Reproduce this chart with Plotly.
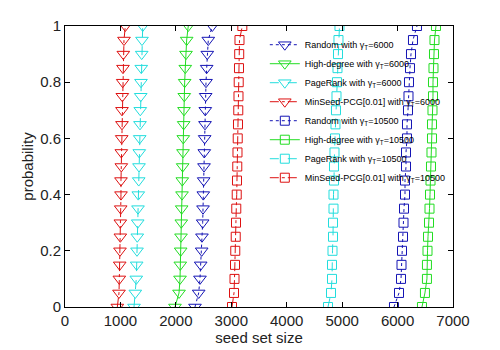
import plotly.graph_objects as go

prob = [i * 0.05 for i in range(21)]

# gamma_T = 6000
random_6000 = [2345, 2412, 2435, 2448, 2466, 2471, 2484, 2490, 2495, 2502, 2508,
               2513, 2520, 2526, 2531, 2538, 2544, 2556, 2567, 2585, 2657]
degree_6000 = [1984, 2057, 2075, 2080, 2087, 2093, 2098, 2105, 2111, 2116, 2123,
               2129, 2134, 2141, 2147, 2152, 2159, 2170, 2183, 2195, 2224]
pagerank_6000 = [1245, 1268, 1286, 1293, 1299, 1304, 1312, 1317, 1322, 1330, 1335,
                 1340, 1348, 1353, 1358, 1366, 1371, 1376, 1384, 1389, 1402]
minseed_6000 = [944, 974, 980, 987, 992, 998, 998, 1005, 1010, 1010, 1016,
                1016, 1023, 1028, 1028, 1034, 1041, 1046, 1052, 1064, 1088]

# gamma_T = 10500
random_10500 = [5935, 6026, 6062, 6071, 6080, 6098, 6107, 6116, 6134, 6134, 6152,
                6152, 6170, 6170, 6188, 6197, 6206, 6224, 6242, 6278, 6350]
degree_10500 = [6440, 6494, 6530, 6530, 6540, 6549, 6567, 6576, 6585, 6594, 6603,
                6612, 6621, 6621, 6630, 6639, 6639, 6648, 6657, 6666, 6693]
pagerank_10500 = [4745, 4799, 4817, 4817, 4826, 4835, 4835, 4844, 4844, 4853, 4853,
                  4862, 4871, 4880, 4889, 4898, 4907, 4916, 4925, 4934, 4952]
minseed_10500 = [3013, 3049, 3058, 3067, 3072, 3080, 3085, 3090, 3098, 3103, 3108,
                 3112, 3116, 3121, 3126, 3130, 3134, 3139, 3143, 3148, 3199]

BLUE = '#1414b4'
GREEN = '#22dd22'
CYAN = '#22dddd'
RED = '#dd1111'

series = [
    ('Random with γ<sub>T</sub>=6000', random_6000, BLUE, 'dot', 'triangle-down-open', 11),
    ('High-degree with γ<sub>T</sub>=6000', degree_6000, GREEN, 'solid', 'triangle-down-open', 11),
    ('PageRank with γ<sub>T</sub>=6000', pagerank_6000, CYAN, 'dash', 'triangle-down-open', 11),
    ('MinSeed-PCG[0.01] with γ<sub>T</sub>=6000', minseed_6000, RED, 'dashdot', 'triangle-down-open', 11),
    ('Random with γ<sub>T</sub>=10500', random_10500, BLUE, 'dot', 'square-open', 9),
    ('High-degree with γ<sub>T</sub>=10500', degree_10500, GREEN, 'solid', 'square-open', 9),
    ('PageRank with γ<sub>T</sub>=10500', pagerank_10500, CYAN, 'dash', 'square-open', 9),
    ('MinSeed-PCG[0.01] with γ<sub>T</sub>=10500', minseed_10500, RED, 'dashdot', 'square-open', 9),
]

fig = go.Figure()
for name, xs, color, dash, symbol, size in series:
    fig.add_trace(go.Scatter(
        x=xs, y=prob, name=name, mode='lines+markers',
        line=dict(color=color, width=1, dash=dash),
        marker=dict(symbol=symbol, size=size, color=color, line=dict(width=1, color=color)),
    ))

axis_style = dict(
    showgrid=False, zeroline=False, showline=True, mirror='ticks',
    linecolor='black', linewidth=1, ticks='inside', ticklen=5,
    tickcolor='black', automargin=False,
    tickfont=dict(family='Arial', size=15, color='#222'),
)

# the page body adds an 8px offset, so the figure is a bit smaller than the window
fig.update_layout(
    width=492, height=342,
    margin=dict(l=57, r=47, t=18, b=43),
    paper_bgcolor='white', plot_bgcolor='white',
    showlegend=True,
    legend=dict(
        x=0.515, y=0.985, xanchor='left', yanchor='top',
        bgcolor='rgba(0,0,0,0)', borderwidth=0,
        font=dict(family='Arial', size=9, color='black'),
        tracegroupgap=0, itemwidth=30,
    ),
    xaxis=dict(axis_style, range=[0, 7000], dtick=1000,
               title=dict(text='seed set size', standoff=0,
                          font=dict(family='Arial', size=15, color='#222'))),
    yaxis=dict(axis_style, range=[0, 1], dtick=0.2,
               title=dict(text='probability', standoff=2,
                          font=dict(family='Arial', size=15, color='#222'))),
)

fig.write_html("out.html")
